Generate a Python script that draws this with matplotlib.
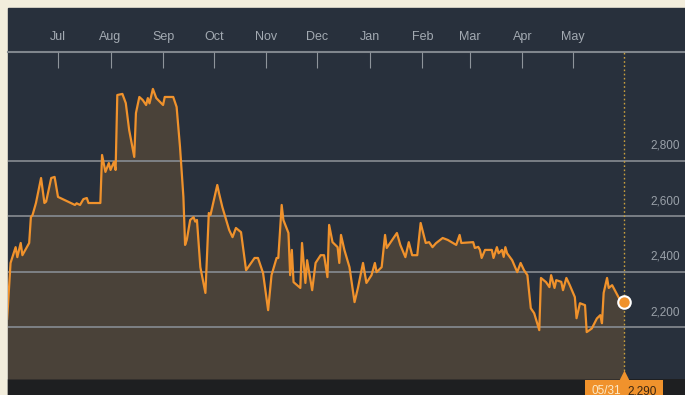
import matplotlib
matplotlib.use("Agg")
import matplotlib.pyplot as plt
import matplotlib.dates as mdates
import pandas as pd
from matplotlib.patches import Rectangle
from matplotlib.offsetbox import TextArea, HPacker, AnnotationBbox
from matplotlib.transforms import blended_transform_factory, offset_copy

# ---------------- data ----------------
dates = [
    "2016-06-01", "2016-06-03", "2016-06-06", "2016-06-07", "2016-06-09", "2016-06-10",
    "2016-06-14", "2016-06-15", "2016-06-16", "2016-06-18", "2016-06-21", "2016-06-23",
    "2016-06-24", "2016-06-27", "2016-06-29", "2016-07-01", "2016-07-11", "2016-07-12",
    "2016-07-14", "2016-07-16", "2016-07-18", "2016-07-19", "2016-07-26", "2016-07-27",
    "2016-07-29", "2016-07-31", "2016-08-01", "2016-08-03", "2016-08-04", "2016-08-05",
    "2016-08-08", "2016-08-10", "2016-08-12", "2016-08-15", "2016-08-16", "2016-08-18",
    "2016-08-20", "2016-08-22", "2016-08-23", "2016-08-24", "2016-08-26", "2016-08-28",
    "2016-09-01", "2016-09-02", "2016-09-07", "2016-09-09", "2016-09-11", "2016-09-13",
    "2016-09-14", "2016-09-15", "2016-09-17", "2016-09-19", "2016-09-20", "2016-09-21",
    "2016-09-23", "2016-09-26", "2016-09-28", "2016-09-29", "2016-10-03", "2016-10-04",
    "2016-10-06", "2016-10-10", "2016-10-12", "2016-10-14", "2016-10-17", "2016-10-20",
    "2016-10-25", "2016-10-27", "2016-10-30", "2016-11-02", "2016-11-04", "2016-11-07",
    "2016-11-08", "2016-11-10", "2016-11-11", "2016-11-14", "2016-11-15", "2016-11-16",
    "2016-11-17", "2016-11-21", "2016-11-22", "2016-11-24", "2016-11-25", "2016-11-28",
    "2016-11-30", "2016-12-03", "2016-12-05", "2016-12-07", "2016-12-08", "2016-12-10",
    "2016-12-13", "2016-12-14", "2016-12-15", "2016-12-17", "2016-12-20", "2016-12-23",
    "2016-12-25", "2016-12-28", "2016-12-30", "2017-01-02", "2017-01-04", "2017-01-05",
    "2017-01-08", "2017-01-10", "2017-01-11", "2017-01-17", "2017-01-19", "2017-01-22",
    "2017-01-24", "2017-01-26", "2017-01-29", "2017-01-31", "2017-02-03", "2017-02-05",
    "2017-02-07", "2017-02-09", "2017-02-13", "2017-02-16", "2017-02-21", "2017-02-23",
    "2017-02-24", "2017-03-03", "2017-03-04", "2017-03-06", "2017-03-07", "2017-03-08",
    "2017-03-10", "2017-03-12", "2017-03-14", "2017-03-15", "2017-03-17", "2017-03-18",
    "2017-03-20", "2017-03-21", "2017-03-22", "2017-03-23", "2017-03-26", "2017-03-29",
    "2017-03-31", "2017-04-02", "2017-04-04", "2017-04-06", "2017-04-08", "2017-04-11",
    "2017-04-12", "2017-04-15", "2017-04-17", "2017-04-18", "2017-04-20", "2017-04-21",
    "2017-04-24", "2017-04-25", "2017-04-27", "2017-04-29", "2017-05-02", "2017-05-03",
    "2017-05-05", "2017-05-08", "2017-05-09", "2017-05-12", "2017-05-15", "2017-05-17",
    "2017-05-18", "2017-05-19", "2017-05-21", "2017-05-22", "2017-05-24", "2017-05-28",
    "2017-05-31",
]
values = [
    2230, 2431, 2488, 2452, 2503, 2459,
    2503, 2596, 2604, 2647, 2737, 2647,
    2652, 2737, 2741, 2669, 2640, 2646,
    2640, 2661, 2665, 2647, 2647, 2820,
    2759, 2791, 2766, 2795, 2766, 3036,
    3040, 3007, 2910, 2813, 2971, 3029,
    3018, 3000, 3025, 3006, 3058, 3025,
    3000, 3029, 3029, 2993, 2849, 2669,
    2496, 2514, 2586, 2596, 2580, 2586,
    2416, 2323, 2611, 2604, 2712, 2683,
    2632, 2550, 2524, 2557, 2542, 2405,
    2449, 2449, 2395, 2261, 2387, 2449,
    2449, 2640, 2586, 2539, 2387, 2478,
    2362, 2341, 2503, 2359, 2441, 2333,
    2431, 2459, 2459, 2380, 2568, 2506,
    2488, 2431, 2532, 2478, 2416, 2290,
    2341, 2431, 2359, 2387, 2431, 2398,
    2416, 2532, 2485, 2539, 2496, 2452,
    2506, 2459, 2459, 2575, 2503, 2506,
    2488, 2502, 2521, 2514, 2496, 2532,
    2503, 2506, 2485, 2489, 2478, 2449,
    2478, 2478, 2478, 2449, 2488, 2466,
    2478, 2453, 2488, 2466, 2441, 2398,
    2431, 2405, 2387, 2268, 2250, 2189,
    2377, 2362, 2344, 2387, 2341, 2369,
    2363, 2333, 2377, 2351, 2308, 2232,
    2286, 2279, 2182, 2195, 2231, 2243,
    2214, 2323, 2377, 2341, 2351, 2305,
    2290,
]
month_ticks = ["2016-07-01", "2016-08-01", "2016-09-01", "2016-10-01", "2016-11-01",
               "2016-12-01", "2017-01-01", "2017-02-01", "2017-03-01", "2017-04-01",
               "2017-05-01"]
month_labels = ["Jul", "Aug", "Sep", "Oct", "Nov", "Dec", "Jan", "Feb", "Mar", "Apr", "May"]
ytick_values = [2200, 2400, 2600, 2800]
last_date_label = "05/31"
last_value_label = "2,290"

# ---------------- style ----------------
NAVY = "#28303c"
FILL = "#4a4239"
ORANGE = "#f0922c"
GRID = "#878c92"
BAND = "#1e1f21"
CREAM = "#f2eddc"
TXT = "#9aa1a9"
NARROW = ["Liberation Sans Narrow", "Liberation Sans", "DejaVu Sans"]

W, H = 685, 395
fig = plt.figure(figsize=(W / 100, H / 100), dpi=100, facecolor=CREAM)
fig.add_artist(Rectangle((8 / W, 0), 677 / W, 387 / H, transform=fig.transFigure,
                         color=NAVY, zorder=-2))
fig.add_artist(Rectangle((8 / W, 0), 677 / W, 16 / H, transform=fig.transFigure,
                         color=BAND, zorder=-1))

ax = fig.add_axes([8 / W, 16 / H, 677 / W, 327 / H])
ax.set_facecolor(NAVY)

d = mdates.date2num(pd.to_datetime(dates))
t0 = d[0]
ax.set_xlim(t0 + 0.5, t0 + 400)
ymin, ymax = 2013, 3191
ax.set_ylim(ymin, ymax)

ax.fill_between(d, values, ymin, color=FILL, lw=0, zorder=1)
ax.plot(d, values, color=ORANGE, lw=1.6, zorder=3, solid_joinstyle="round")

# grid
ax.set_yticks(ytick_values)
ax.tick_params(axis="y", length=0, labelleft=False)
ax.grid(axis="y", color=GRID, lw=1.2)
ax.set_axisbelow(False)

# y labels above grid lines
tr = offset_copy(blended_transform_factory(ax.transAxes, ax.transData), fig=fig,
                 x=0, y=15, units="dots")
for v in ytick_values:
    ax.text(0.9926, v, f"{v:,}", transform=tr, ha="right", va="center",
            color=TXT, fontsize=8.5, family=["Liberation Sans", "DejaVu Sans"])

# month ticks on top
ax.xaxis.tick_top()
ax.set_xticks(mdates.date2num(pd.to_datetime(month_ticks)))
ax.set_xticklabels(month_labels, family=NARROW)
ax.tick_params(axis="x", direction="in", length=11.5, width=0.8, color="#8e949b",
               labelcolor="#a3aab2", labelsize=9, pad=6.8)
ax.xaxis.grid(False)

for s in ["left", "right", "bottom"]:
    ax.spines[s].set_visible(False)
ax.spines["top"].set_color("#80868d")
ax.spines["top"].set_linewidth(1.5)

# last point marker / dotted line
ax.axvline(d[-1], color="#c9a03e", ls=(0, (1.2, 1.8)), lw=1, zorder=2.7)
ax.plot(d[-1], values[-1], "o", ms=9, mfc=ORANGE, mec="white", mew=1.5, zorder=5,
        clip_on=False)
tri_tr = offset_copy(ax.transData, fig=fig, x=0, y=4.5, units="dots")
ax.plot(d[-1], ymin, marker="^", ms=7, color=ORANGE, mec="none", zorder=8,
        clip_on=False, transform=tri_tr)

ta1 = TextArea(last_date_label, textprops=dict(color="#fbe9c8", fontsize=8.5, family=NARROW))
ta2 = TextArea(last_value_label, textprops=dict(color="#3b2612", fontsize=8.5, family=NARROW))
pack = HPacker(children=[ta1, ta2], align="center", pad=1, sep=5)
ab = AnnotationBbox(pack, (d[-1], 0), xycoords=("data", "axes fraction"),
                    xybox=(0, -3.5), boxcoords="offset points", box_alignment=(0.5, 1),
                    frameon=True, pad=0.3, annotation_clip=False,
                    bboxprops=dict(fc=ORANGE, ec="none", boxstyle="square,pad=0.3"))
ab.set_zorder(7)
ax.add_artist(ab)

fig.savefig("out.png", dpi=100, facecolor=CREAM)
